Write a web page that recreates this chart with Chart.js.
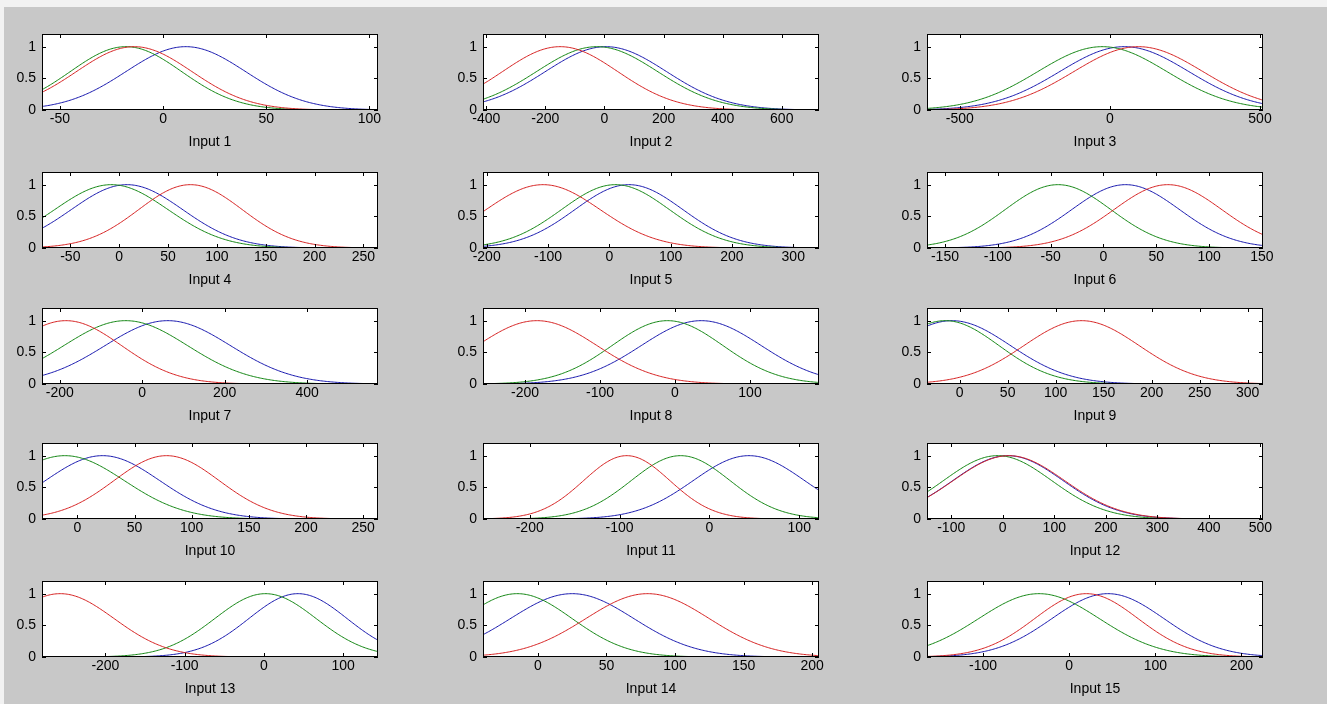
<!DOCTYPE html>
<html>
<head>
<meta charset="utf-8">
<script src="https://cdn.jsdelivr.net/npm/chart.js@4.4.1/dist/chart.umd.min.js"></script>
<style>
  html, body { margin: 0; padding: 0; }
  body { width: 1327px; height: 704px; background: #c8c8c8; position: relative; overflow: hidden;
         border-top: 7px solid #f2f2f2; border-left: 4px solid #f2f2f2; box-sizing: border-box; }
  canvas { position: absolute; }
</style>
</head>
<body>
<script>
// Gaussian membership functions: one centre and one width per curve
const inputLabels = ['Input 1', 'Input 2', 'Input 3', 'Input 4', 'Input 5', 'Input 6', 'Input 7', 'Input 8',
  'Input 9', 'Input 10', 'Input 11', 'Input 12', 'Input 13', 'Input 14', 'Input 15'];
const xRanges = [[-58.7, 104.2], [-411, 726], [-609, 510], [-79, 265], [-206, 342], [-167, 151], [-243, 572],
  [-256, 192], [-34, 316], [-31, 263], [-252, 122], [-147, 505], [-280, 144], [-40, 205], [-165, 225]];
const xTickValues = [
  [-50, 0, 50, 100], [-400, -200, 0, 200, 400, 600], [-500, 0, 500],
  [-50, 0, 50, 100, 150, 200, 250], [-200, -100, 0, 100, 200, 300], [-150, -100, -50, 0, 50, 100, 150],
  [-200, 0, 200, 400], [-200, -100, 0, 100], [0, 50, 100, 150, 200, 250, 300],
  [0, 50, 100, 150, 200, 250], [-200, -100, 0, 100], [-100, 0, 100, 200, 300, 400, 500],
  [-200, -100, 0, 100], [0, 50, 100, 150, 200], [-100, 0, 100, 200]
];
const yTickValues = [0, 0.5, 1];

const redCenters   = [-14, -150, 95, 73, -108, 61, -185, -184, 127, 78, -92, 12, -257, 80, 20];
const redSigmas    = [28, 195, 215, 53, 93, 51, 135, 80, 60, 46, 48, 108, 68, 45, 60];
const greenCenters = [-18, -25, -25, -8, 10, -43, -40, -10, -15, -11, -32, -10, 2, -15, -35];
const greenSigmas  = [27, 205, 215, 58, 88, 50, 150, 74, 56, 52, 55, 105, 64, 40, 70];
const blueCenters  = [11, 5, 48, 8, 32, 21, 62, 35, -8, 22, 44, 10, 43, 25, 45];
const blueSigmas   = [29, 205, 215, 57, 88, 51, 152, 80, 61, 50, 62, 107, 62, 45, 65];

const colLeft = [42, 483, 927];
const rowTop = [34, 172, 308, 443, 581];
const BOX_W = 336, BOX_H = 76;
const PAD_L = 40, PAD_T = 8, PAD_R = 30, AXIS_H = 41;
const FONT = { family: "'Liberation Sans', Arial, sans-serif", size: 14 };

function gaussCurve(range, c, s) {
  const pts = [];
  const n = 240;
  for (let k = 0; k <= n; k++) {
    const x = range[0] + (range[1] - range[0]) * k / n;
    pts.push({ x: x, y: Math.exp(-((x - c) * (x - c)) / (2 * s * s)) });
  }
  return pts;
}

// white axes box with inward tick marks, MATLAB style
const boxPlugin = {
  id: 'matlabBox',
  beforeDraw(chart) {
    const { ctx, chartArea: a } = chart;
    ctx.save();
    ctx.fillStyle = '#ffffff';
    ctx.fillRect(a.left, a.top, a.width, a.height);
    ctx.restore();
  },
  afterDraw(chart) {
    const { ctx, chartArea: a, scales } = chart;
    ctx.save();
    ctx.strokeStyle = '#000';
    ctx.lineWidth = 1;
    ctx.beginPath();
    scales.x.ticks.forEach(t => {
      const px = Math.round(scales.x.getPixelForValue(t.value)) + 0.5;
      ctx.moveTo(px, a.bottom); ctx.lineTo(px, a.bottom - 4);
      ctx.moveTo(px, a.top); ctx.lineTo(px, a.top + 4);
    });
    scales.y.ticks.forEach(t => {
      const py = Math.round(scales.y.getPixelForValue(t.value)) + 0.5;
      ctx.moveTo(a.left, py); ctx.lineTo(a.left + 4, py);
      ctx.moveTo(a.right, py); ctx.lineTo(a.right - 4, py);
    });
    ctx.stroke();
    ctx.strokeRect(Math.round(a.left) + 0.5, Math.round(a.top) + 0.5, Math.round(a.width) - 1, Math.round(a.height) - 1);
    ctx.restore();
  }
};

inputLabels.forEach((label, i) => {
  const canvas = document.createElement('canvas');
  const w = PAD_L + BOX_W + PAD_R, h = PAD_T + BOX_H + AXIS_H;
  canvas.width = w; canvas.height = h;
  // body has a 4px left / 7px top border, offset positions so boxes land on page coordinates
  canvas.style.left = (colLeft[i % 3] - PAD_L - 4) + 'px';
  canvas.style.top = (rowTop[Math.floor(i / 3)] - PAD_T - 7) + 'px';
  canvas.style.width = w + 'px'; canvas.style.height = h + 'px';
  document.body.appendChild(canvas);

  const range = xRanges[i];
  const line = (data, color) => ({
    data: data, borderColor: color, borderWidth: 1, pointRadius: 0, showLine: true, tension: 0, fill: false
  });

  new Chart(canvas.getContext('2d'), {
    type: 'scatter',
    data: {
      datasets: [
        line(gaussCurve(range, redCenters[i], redSigmas[i]), 'rgb(215,35,35)'),
        line(gaussCurve(range, greenCenters[i], greenSigmas[i]), 'rgb(20,135,20)'),
        line(gaussCurve(range, blueCenters[i], blueSigmas[i]), 'rgb(25,25,175)')
      ]
    },
    options: {
      responsive: false,
      animation: false,
      events: [],
      layout: { padding: { left: 0, top: PAD_T, right: PAD_R, bottom: 0 } },
      plugins: { legend: { display: false }, tooltip: { enabled: false } },
      scales: {
        x: {
          type: 'linear', min: range[0], max: range[1],
          afterBuildTicks: s => { s.ticks = xTickValues[i].map(v => ({ value: v })); },
          afterFit: s => { s.height = AXIS_H; s.paddingLeft = 0; s.paddingRight = 0; },
          grid: { display: false, drawTicks: false },
          border: { display: false },
          ticks: { color: '#000', font: FONT, padding: 1, maxRotation: 0, autoSkip: false, callback: v => String(v) },
          title: { display: true, text: label, color: '#000', font: FONT, padding: 0 }
        },
        y: {
          type: 'linear', min: 0, max: 1.2,
          afterBuildTicks: s => { s.ticks = yTickValues.map(v => ({ value: v })); },
          afterFit: s => { s.width = PAD_L; s.paddingTop = 0; s.paddingBottom = 0; },
          grid: { display: false, drawTicks: false },
          border: { display: false },
          ticks: { color: '#000', font: FONT, padding: 6, callback: v => String(v) }
        }
      }
    },
    plugins: [boxPlugin]
  });
});
</script>
</body>
</html>
